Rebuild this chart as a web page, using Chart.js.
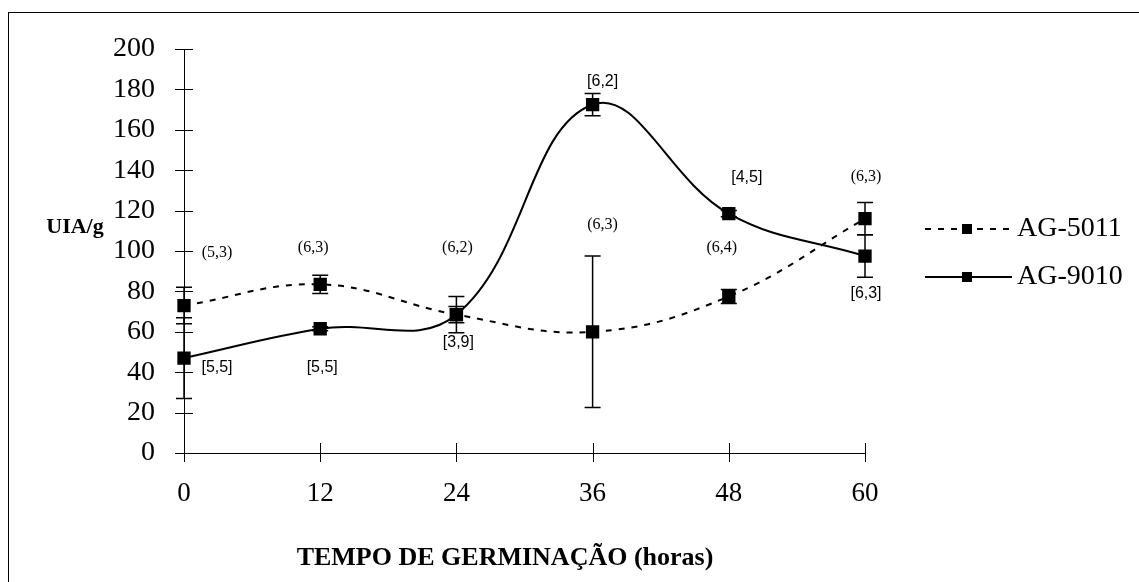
<!DOCTYPE html>
<html>
<head>
<meta charset="utf-8">
<script src="https://cdn.jsdelivr.net/npm/chart.js@4.4.1/dist/chart.umd.min.js"></script>
<style>
  html, body { margin: 0; padding: 0; background: #fff; }
  canvas { display: block; }
</style>
</head>
<body>
<canvas id="uiaChart" width="1139" height="582"></canvas>
<script>
// UIA/g durante a germinação - AG-5011 x AG-9010

const hours = [0, 12, 24, 36, 48, 60];
const yTicks = [0, 20, 40, 60, 80, 100, 120, 140, 160, 180, 200];

const ag5011 = [73, 83.5, 68.5, 60, 77.5, 116];
const ag5011Err = [9, 4.5, 4, 37.5, 3.5, 8];
const ag5011Notes = ["(5,3)", "(6,3)", "(6,2)", "(6,3)", "(6,4)", "(6,3)"];

const ag9010 = [47, 61.5, 68.5, 172.5, 118.5, 97.5];
const ag9010Err = [20, 1, 9, 5.5, 1.5, 10.5];
const ag9010Notes = ["[5,5]", "[5,5]", "[3,9]", "[6,2]", "[4,5]", "[6,3]"];

const serif = '"Liberation Serif", "Times New Roman", serif';
const sans = '"Liberation Sans", Arial, sans-serif';

// where each note sits relative to its point (pixels)
const noteOffsets = [
  [[33, -53], [-7, -37], [1, -67], [10, -107], [-7, -49], [1, -42]],
  [[33, 10], [2, 39], [2, 28], [10, -23], [18, -36], [1, 38]],
];
const errorSets = [ag5011Err, ag9010Err];
const valueSets = [ag5011, ag9010];
const noteSets = [ag5011Notes, ag9010Notes];

const extras = {
  id: "extras",
  beforeDraw(chart) {
    const ctx = chart.ctx;
    ctx.save();
    ctx.fillStyle = "#fff";
    ctx.fillRect(0, 0, chart.width, chart.height);
    ctx.strokeStyle = "#000";
    ctx.lineWidth = 1;
    ctx.strokeRect(8.5, 12.5, chart.width + 20, chart.height + 20);
    ctx.restore();
  },
  afterDatasetsDraw(chart) {
    const ctx = chart.ctx;
    const xs = chart.scales.x, ys = chart.scales.y;
    ctx.save();
    ctx.strokeStyle = "#000";
    ctx.lineWidth = 1.5;
    errorSets.forEach((errs, d) => {
      errs.forEach((e, i) => {
        const x = xs.getPixelForValue(hours[i]);
        const top = ys.getPixelForValue(valueSets[d][i] + e);
        const bot = ys.getPixelForValue(valueSets[d][i] - e);
        ctx.beginPath();
        ctx.moveTo(x, top); ctx.lineTo(x, bot);
        ctx.moveTo(x - 8, top); ctx.lineTo(x + 8, top);
        ctx.moveTo(x - 8, bot); ctx.lineTo(x + 8, bot);
        ctx.stroke();
      });
    });
    ctx.restore();
  },
  afterDraw(chart) {
    const ctx = chart.ctx;
    const xs = chart.scales.x, ys = chart.scales.y;
    const area = chart.chartArea;
    ctx.save();
    ctx.strokeStyle = "#000";
    ctx.lineWidth = 1;

    // tick marks crossing the axes
    ctx.beginPath();
    ys.ticks.forEach(t => {
      const y = Math.round(ys.getPixelForValue(t.value)) + 0.5;
      ctx.moveTo(area.left - 9, y); ctx.lineTo(area.left + 9, y);
    });
    xs.ticks.forEach(t => {
      const x = Math.round(xs.getPixelForValue(t.value)) + 0.5;
      ctx.moveTo(x, area.bottom - 10); ctx.lineTo(x, area.bottom + 9);
    });
    ctx.stroke();

    // notes next to the points
    ctx.fillStyle = "#000";
    ctx.textAlign = "center";
    ctx.textBaseline = "middle";
    noteSets.forEach((notes, d) => {
      ctx.font = d === 0 ? "16px " + serif : "16px " + sans;
      notes.forEach((txt, i) => {
        const x = xs.getPixelForValue(hours[i]) + noteOffsets[d][i][0];
        const y = ys.getPixelForValue(valueSets[d][i]) + noteOffsets[d][i][1];
        ctx.fillText(txt, x, y);
      });
    });

    // axis titles
    ctx.font = "bold 22px " + serif;
    ctx.fillText("UIA/g", 75, 227);
    ctx.font = "bold 26px " + serif;
    ctx.fillText("TEMPO DE GERMINAÇÃO (horas)", 505, 558);

    // legend: line + marker + name
    ctx.textAlign = "left";
    ctx.font = "28px " + serif;
    chart.data.datasets.forEach((ds, d) => {
      const y = 229 + d * 48;
      ctx.lineWidth = ds.borderWidth;
      ctx.setLineDash(ds.borderDash || []);
      ctx.beginPath();
      ctx.moveTo(925, y); ctx.lineTo(1012, y);
      ctx.stroke();
      ctx.setLineDash([]);
      ctx.fillRect(962, y - 5, 10, 10);
      ctx.fillText(ds.label, 1017, y);
    });
    ctx.restore();
  },
};

const toPoints = vals => hours.map((h, i) => ({ x: h, y: vals[i] }));

new Chart(document.getElementById("uiaChart"), {
  type: "line",
  data: {
    datasets: [
      {
        label: "AG-5011",
        data: toPoints(ag5011),
        borderColor: "#000",
        backgroundColor: "#000",
        borderWidth: 2,
        borderDash: [6, 7],
        pointStyle: "rect",
        pointRadius: 8,
        tension: 0.4,
        clip: false,
      },
      {
        label: "AG-9010",
        data: toPoints(ag9010),
        borderColor: "#000",
        backgroundColor: "#000",
        borderWidth: 2,
        pointStyle: "rect",
        pointRadius: 8,
        tension: 0.4,
        clip: false,
      },
    ],
  },
  options: {
    responsive: false,
    animation: false,
    devicePixelRatio: 1,
    layout: { padding: { left: 0, top: 49, right: 274, bottom: 0 } },
    plugins: {
      legend: { display: false },
      tooltip: { enabled: false },
    },
    scales: {
      x: {
        type: "linear",
        min: 0,
        max: 60,
        afterBuildTicks: s => { s.ticks = hours.map(v => ({ value: v })); },
        afterFit: s => { s.height = 129; },
        grid: { display: false, drawTicks: false },
        border: { display: true, color: "#000", width: 1 },
        ticks: { color: "#000", padding: 25, font: { family: serif, size: 27 } },
      },
      y: {
        type: "linear",
        min: 0,
        max: 200,
        afterBuildTicks: s => { s.ticks = yTicks.map(v => ({ value: v })); },
        afterFit: s => { s.width = 184; },
        grid: { display: false, drawTicks: false },
        border: { display: true, color: "#000", width: 1 },
        ticks: { color: "#000", padding: 29, font: { family: serif, size: 28 } },
      },
    },
  },
  plugins: [extras],
});
</script>
</body>
</html>
